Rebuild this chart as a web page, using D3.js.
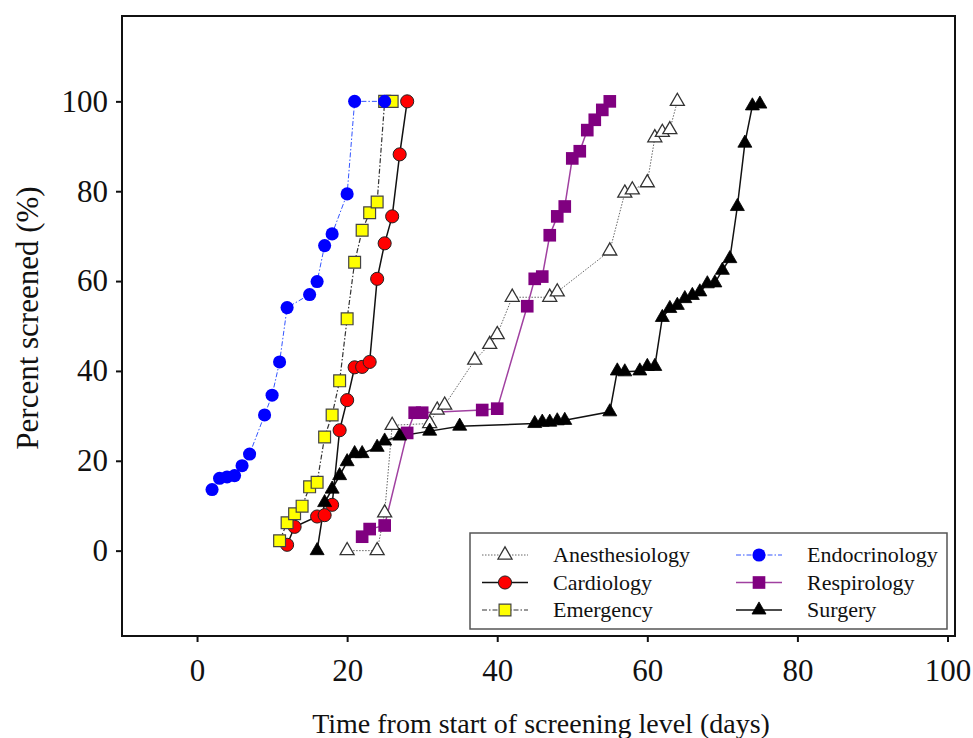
<!DOCTYPE html>
<html><head><meta charset="utf-8">
<script src="https://cdn.jsdelivr.net/npm/d3@7"></script>
<style>body{margin:0;background:#fff}svg{display:block}</style>
</head><body>
<svg id="chart" width="973" height="738"></svg>
<script>
// ---- data ----
const xTicks = [0, 20, 40, 60, 80, 100];
const yTicks = [0, 20, 40, 60, 80, 100];

const anesX = [20,24,25,26,31,32,33,37,39,40,42,47,48,55,57,58,60,61,62,63,64];
const anesY = [0,0,8.4,27.9,28.3,31.3,32.4,42.4,45.9,48.1,56.4,56.4,57.6,66.7,79.6,80.3,81.9,91.9,93.1,93.7,100];

const cardX = [12,13,16,17,18,19,20,21,22,23,24,25,26,27,28];
const cardY = [1.3,5.3,7.6,7.9,10.2,26.8,33.5,40.8,40.9,42.0,60.5,68.4,74.4,88.2,100];

const emerX = [11,12,13,14,15,16,17,18,19,20,21,22,23,24,25,26];
const emerY = [2.2,6.2,8.2,9.9,14.2,15.2,25.3,30.2,37.8,51.6,64.2,71.3,75.2,77.6,100,100];

const endoX = [2,3,4,5,6,7,9,10,11,12,15,16,17,18,20,21,25];
const endoY = [13.6,16.1,16.4,16.7,18.9,21.5,30.2,34.6,42.0,54.1,57.0,59.9,67.9,70.5,79.4,100,100];

const respX = [22,23,25,28,29,30,38,40,44,45,46,47,48,49,50,51,52,53,54,55];
const respY = [3.1,4.8,5.6,26.2,30.7,30.7,31.3,31.6,54.4,60.5,61.0,70.2,74.4,76.6,87.3,88.9,93.6,95.9,98.1,100];

const surgX = [16,17,18,19,20,21,22,24,25,27,31,35,45,46,47,48,49,55,56,57,59,60,61,62,63,64,65,66,67,68,69,70,71,72,73,74,75];
const surgY = [0,10.7,13.7,16.7,19.8,21.6,21.6,23.0,24.4,25.5,26.6,27.7,28.3,28.6,28.6,28.9,29.0,30.9,40.0,39.8,40.0,41.0,41.0,51.9,53.9,54.6,56.1,56.8,57.6,59.4,59.6,62.4,65.0,76.6,90.7,99.0,99.4];

const seriesNames = ["Anesthesiology","Cardiology","Emergency","Endocrinology","Respirology","Surgery"];

// ---- styles ----
const styles = {
  Anesthesiology: {line:"#666", lw:1, dash:"1.5,1.5", sym:d3.symbolTriangle, size:85, fill:"#fff", stroke:"#333", sw:1.3},
  Cardiology:     {line:"#111", lw:1.5, dash:null, sym:d3.symbolCircle, size:135, fill:"#ff0000", stroke:"#222", sw:1},
  Emergency:      {line:"#333", lw:1.2, dash:"5,2,1.5,2", sym:d3.symbolSquare, size:140, fill:"#ffff00", stroke:"#444", sw:1.2},
  Endocrinology:  {line:"#3355ff", lw:1, dash:"5,2,1.5,2", sym:d3.symbolCircle, size:135, fill:"#0000ff", stroke:"none", sw:0},
  Respirology:    {line:"#a040a0", lw:1.5, dash:null, sym:d3.symbolSquare, size:160, fill:"#800080", stroke:"none", sw:0},
  Surgery:        {line:"#111", lw:1.5, dash:null, sym:d3.symbolTriangle, size:85, fill:"#000", stroke:"#000", sw:0.8}
};
const data = {
  Anesthesiology: anesX.map((d,i)=>[d, anesY[i]]),
  Cardiology: cardX.map((d,i)=>[d, cardY[i]]),
  Emergency: emerX.map((d,i)=>[d, emerY[i]]),
  Endocrinology: endoX.map((d,i)=>[d, endoY[i]]),
  Respirology: respX.map((d,i)=>[d, respY[i]]),
  Surgery: surgX.map((d,i)=>[d, surgY[i]])
};

const svg = d3.select("#chart");
const font = "'Liberation Serif','Times New Roman',serif";
const x = d3.scaleLinear().domain([-10, 101]).range([122, 955]);
const y = d3.scaleLinear().domain([-19, 119]).range([636, 16]);

// series
const line = d3.line().x(d=>x(d[0])).y(d=>y(d[1]));
seriesNames.forEach(name=>{
  const s = styles[name];
  svg.append("path").datum(data[name]).attr("d", line)
    .attr("fill","none").attr("stroke", s.line).attr("stroke-width", s.lw)
    .attr("stroke-dasharray", s.dash);
});
seriesNames.forEach(name=>{
  const s = styles[name];
  svg.append("g").selectAll("path").data(data[name]).join("path")
    .attr("transform", d=>`translate(${x(d[0])},${y(d[1])})`)
    .attr("d", d3.symbol().type(s.sym).size(s.size)())
    .attr("fill", s.fill).attr("stroke", s.stroke).attr("stroke-width", s.sw);
});

// frame
svg.append("rect").attr("x",122).attr("y",16).attr("width",955-122).attr("height",636-16)
  .attr("fill","none").attr("stroke","#111").attr("stroke-width",2);

// axes
const xa = svg.append("g").attr("transform","translate(0,636)")
  .call(d3.axisBottom(x).tickValues(xTicks).tickSize(6).tickPadding(17).tickSizeOuter(0));
const ya = svg.append("g").attr("transform","translate(122,0)")
  .call(d3.axisLeft(y).tickValues(yTicks).tickSize(6).tickPadding(8).tickSizeOuter(0));
[xa, ya].forEach(a=>{
  a.select(".domain").remove();
  a.selectAll("line").attr("stroke","#111").attr("stroke-width",2);
  a.selectAll("text").attr("fill","#111").style("font-family",font).style("font-size","31px");
});

// titles
svg.append("text").attr("x",541).attr("y",733).attr("text-anchor","middle")
  .style("font-family",font).style("font-size","28px").attr("fill","#111")
  .text("Time from start of screening level (days)");
svg.append("text").attr("transform","translate(38,318) rotate(-90)").attr("text-anchor","middle")
  .style("font-family",font).style("font-size","31px").attr("fill","#111")
  .text("Percent screened (%)");

// legend
svg.append("rect").attr("x",470).attr("y",533).attr("width",477).attr("height",96)
  .attr("fill","#fff").attr("stroke","#555").attr("stroke-width",1.5);
const legPos = [[505,555],[505,582.5],[505,610],[759,555],[759,582.5],[759,610]];
seriesNames.forEach((name,i)=>{
  const s = styles[name];
  const [cx, cy] = legPos[i];
  svg.append("line").attr("x1",cx-23).attr("x2",cx+23).attr("y1",cy).attr("y2",cy)
    .attr("stroke",s.line).attr("stroke-width",s.lw).attr("stroke-dasharray",s.dash);
  svg.append("path").attr("transform",`translate(${cx},${cy})`)
    .attr("d", d3.symbol().type(s.sym).size(s.size)())
    .attr("fill",s.fill).attr("stroke",s.stroke).attr("stroke-width",s.sw);
  svg.append("text").attr("x",cx+48).attr("y",cy).attr("dy","0.33em")
    .style("font-family",font).style("font-size","22px").attr("fill","#111").text(name);
});
</script>
</body></html>
